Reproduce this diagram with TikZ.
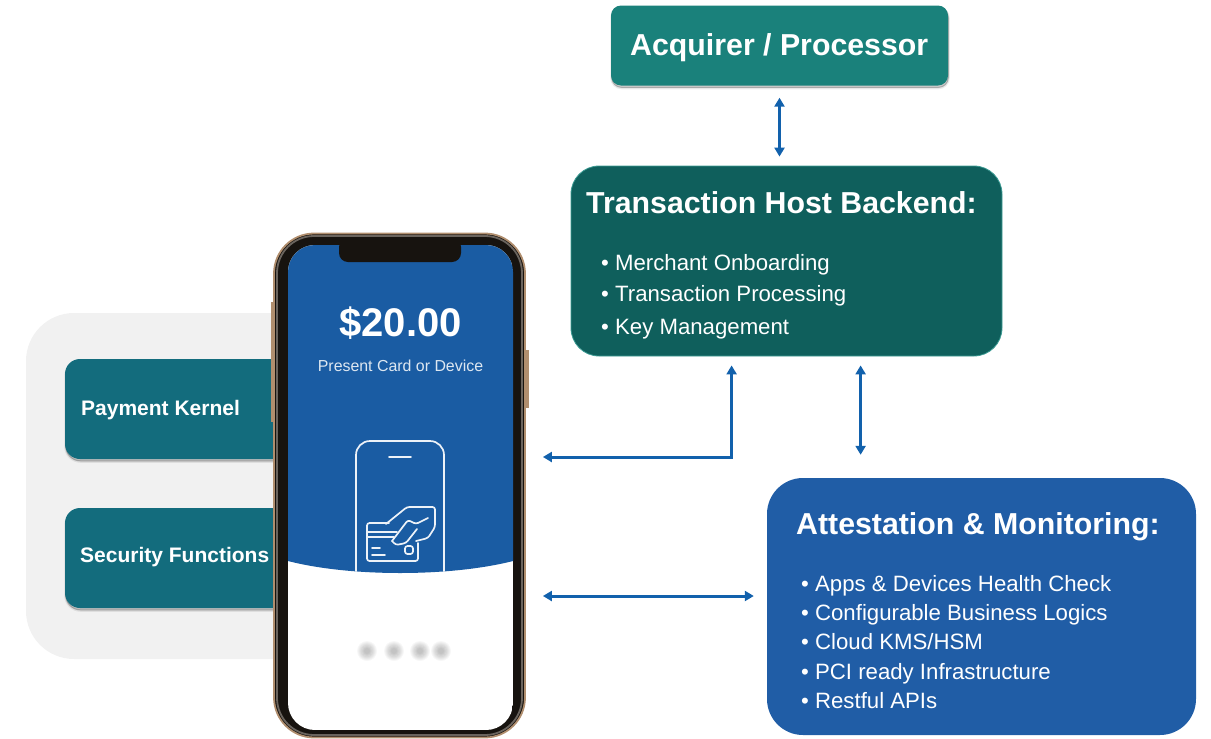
\documentclass[tikz,border=0pt]{standalone}
\usepackage{fontspec}
\setmainfont{Liberation Sans}
\usetikzlibrary{arrows.meta,calc}
\definecolor{tealA}{HTML}{1A817B}
\definecolor{tealB}{HTML}{136C7D}
\definecolor{hostA}{HTML}{0F5F5C}
\definecolor{hostEdge}{HTML}{3D9C94}
\definecolor{blueA}{HTML}{205DA6}
\definecolor{screenblue}{HTML}{1A5CA3}
\definecolor{arrowblue}{HTML}{1261AC}
\definecolor{panelgrey}{HTML}{F1F1F1}
\definecolor{gold}{HTML}{B08E6E}
\definecolor{phoneblack}{HTML}{17130F}
\definecolor{phonegrey}{HTML}{6A645E}
\tikzset{
  x=1pt,y=-1pt,
  softshadow/.style={
    preaction={fill=black,opacity=.08,draw=black,line width=2.5pt,transform canvas={yshift=-2.5pt,xshift=.5pt}},
    preaction={fill=black,opacity=.14,draw=black,line width=.8pt,transform canvas={yshift=-2pt,xshift=.5pt}}},
  sidebox/.style={fill=tealB,rounded corners=15pt,softshadow},
  boxtitle/.style={text=white,font=\bfseries\fontsize{30.3}{34}\selectfont,anchor=base west,inner sep=0pt},
  sidetext/.style={text=white,font=\bfseries\fontsize{21}{24}\selectfont,anchor=base west,inner sep=0pt},
  itemtext/.style={text=white,font=\fontsize{22.2}{26}\selectfont,anchor=base west,inner sep=0pt},
  link/.style={draw=arrowblue,line width=3pt,{Triangle[width=10pt,length=9pt]}-{Triangle[width=10pt,length=9pt]}},
  iconline/.style={draw=white!92!screenblue,line width=1.7pt,rounded corners=2.5pt,line cap=round},
}
\begin{document}
\begin{tikzpicture}
\useasboundingbox (0,0) rectangle (1211,739);
% grey panel
\fill[panelgrey,rounded corners=48pt] (26,313) rectangle (330,659);
% side boxes
\path[sidebox] (65,359) rectangle (300,459);
\path[sidebox] (65,508) rectangle (300,608);
\node[sidetext] (pk) at (81,415) {Payment Kernel};
\node[sidetext] (sf) at (80,562) {Security Functions};
% phone buttons
\fill[gold] (270.5,302) rectangle (276,422);
\fill[gold] (524,350) rectangle (528.5,408);
% phone body
\node[draw=gold,line width=1.8pt,fill=phoneblack,rounded corners=40pt,minimum width=251pt,minimum height=504pt,inner sep=0pt] (phone) at (399.5,485.5) {};
\draw[phonegrey,line width=1.8pt,rounded corners=37pt] (277,236) rectangle (522,735);
\begin{scope}
  \clip[rounded corners=27pt] (288,245) rectangle (513,730);
  \fill[white] (288,245) rectangle (513,730);
  \fill[screenblue] (288,245) -- (513,245) -- (513,561) .. controls (450,577) and (350,577) .. (288,561) -- cycle;
\end{scope}
% notch
\fill[phoneblack,rounded corners=9pt] (339,238) rectangle (461,262);
% screen text
\node[text=white,font=\bfseries\fontsize{40}{44}\selectfont,inner sep=0pt] (amount) at (400.5,323) {\$20.00};
\node[text=white!85!screenblue,font=\fontsize{15.9}{18}\selectfont,inner sep=0pt] (present) at (400.5,366) {Present Card or Device};
% device icon
\draw[iconline,rounded corners=14pt] (356,571) -- (356,441) -- (444,441) -- (444,571);
\draw[iconline] (389,457) -- (411,457);
% card icon
\draw[iconline] (389,523) -- (367,523) -- (367,561) -- (418,561) -- (418,543);
\draw[iconline] (367,532) -- (397,532);
\draw[iconline] (367,537) -- (394,537);
\draw[iconline] (372,548) -- (380,548);
\draw[iconline] (372,555) -- (385,555);
\draw[iconline] (405,546) rectangle (413,554);
\draw[iconline] (386,524) -- (407,507) -- (435,507) -- (435,527) -- (428,538) -- (416,541);
\draw[iconline] (392,541) -- (408,520) -- (416,524) -- (428,518);
\draw[iconline] (392,541) -- (396,545) -- (406,543) -- (417,529);
% blurred dots
\foreach \px in {367,394,420,441}{
  \foreach \rad in {10,9,...,3}{
    \fill[black,opacity=.032] (\px,651) circle[radius=\rad];
  }
}
% main boxes
\node[fill=tealA,rounded corners=10pt,softshadow,minimum width=337pt,minimum height=80pt,inner sep=0pt] (acq) at (779.5,45.5) {};
\node[fill=hostA,draw=hostEdge,line width=.8pt,rounded corners=28pt,minimum width=431pt,minimum height=190pt,inner sep=0pt] (host) at (786.5,261) {};
\node[fill=blueA,rounded corners=36pt,minimum width=429pt,minimum height=257pt,inner sep=0pt] (att) at (981.5,606.5) {};
% box titles
\node[boxtitle] (acqtitle) at (630,55) {Acquirer / Processor};
\node[boxtitle] (hosttitle) at (586,213) {Transaction Host Backend:};
\node[itemtext] (h1) at (601,270) {• Merchant Onboarding};
\node[itemtext] (h2) at (601,301) {• Transaction Processing};
\node[itemtext] (h3) at (601,334) {• Key Management};
% attestation text
\node[boxtitle] (atttitle) at (796,534) {Attestation \& Monitoring:};
\node[itemtext] (a1) at (801,591) {• Apps \& Devices Health Check};
\node[itemtext] (a2) at (801,620) {• Configurable Business Logics};
\node[itemtext] (a3) at (801,649) {• Cloud KMS/HSM};
\node[itemtext] (a4) at (801,679) {• PCI ready Infrastructure};
\node[itemtext] (a5) at (801,708) {• Restful APIs};
% connectors
\draw[link,shorten <=12pt,shorten >=9pt] (acq.south) -- (acq.south |- host.north);
\coordinate (hostL) at ($(host.south west)+(161,9)$);
\coordinate (hostR) at ($(host.south west)+(290,9)$);
\coordinate (elbow) at (hostL |- 0,457);
\coordinate (phoneA) at ($(phone.east |- elbow)+(17,0)$);
\draw[link,line join=miter] (hostL) -- (elbow) -- (phoneA);
\coordinate (attT) at (hostR |- att.north);
\draw[link,shorten >=23pt] (hostR) -- (attT);
\coordinate (phoneB) at ($(phone.east |- 0,596)+(17,0)$);
\coordinate (attB) at ($(att.west |- 0,596)+(-13,0)$);
\draw[link] (phoneB) -- (attB);
\end{tikzpicture}
\end{document}
